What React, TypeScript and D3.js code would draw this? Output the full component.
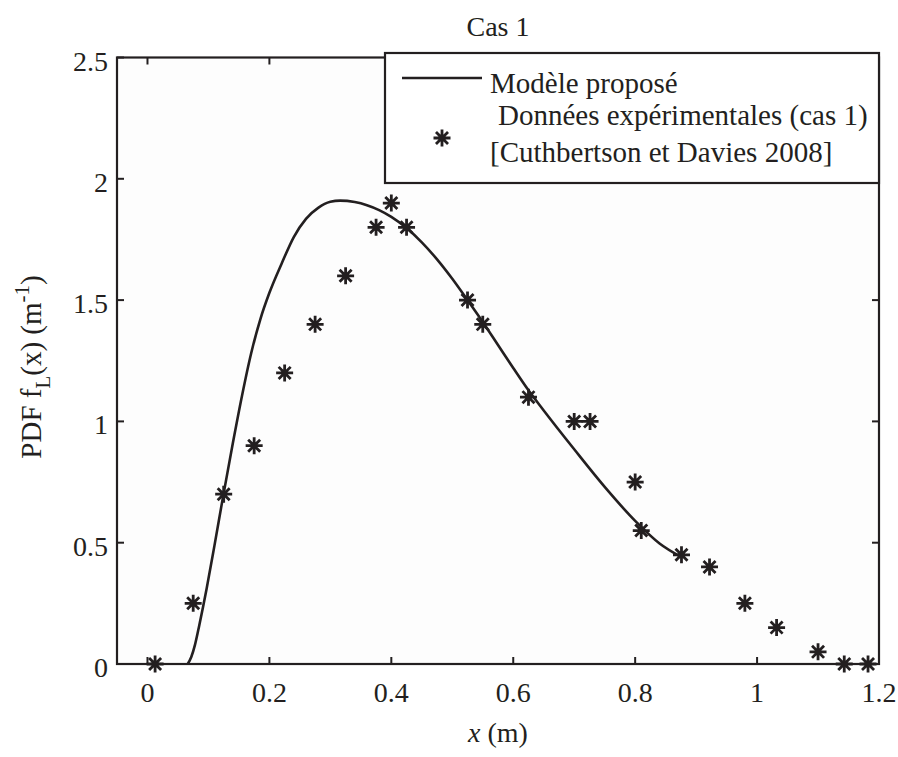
import React from "react";
import * as d3 from "d3";

const W = 898;
const H = 757;

// Experimental data (stars)
const dataX = [0.0125, 0.075, 0.125, 0.175, 0.225, 0.275, 0.325, 0.375, 0.4, 0.425, 0.525, 0.55, 0.625, 0.7, 0.726, 0.8, 0.81, 0.876, 0.922, 0.98, 1.032, 1.1, 1.143, 1.182];
const dataY = [0, 0.25, 0.7, 0.9, 1.2, 1.4, 1.6, 1.8, 1.9, 1.8, 1.5, 1.4, 1.1, 1.0, 1.0, 0.75, 0.55, 0.45, 0.4, 0.25, 0.15, 0.05, 0, 0];

// Model curve
const curveX = [0.066, 0.072, 0.078, 0.085, 0.097, 0.11, 0.124, 0.14, 0.155, 0.17, 0.185, 0.2, 0.22, 0.24, 0.26, 0.28, 0.3, 0.316, 0.34, 0.36, 0.38, 0.4, 0.425, 0.45, 0.475, 0.5, 0.525, 0.55, 0.575, 0.6, 0.625, 0.65, 0.7, 0.75, 0.8, 0.84, 0.875];
const curveY = [0, 0.03, 0.08, 0.16, 0.31, 0.49, 0.69, 0.91, 1.105, 1.28, 1.42, 1.53, 1.65, 1.76, 1.835, 1.88, 1.905, 1.91, 1.904, 1.891, 1.871, 1.843, 1.797, 1.738, 1.668, 1.588, 1.5, 1.41, 1.315, 1.22, 1.128, 1.045, 0.885, 0.73, 0.59, 0.497, 0.442];

const xTicks = [0, 0.2, 0.4, 0.6, 0.8, 1, 1.2];
const yTicks = [0, 0.5, 1, 1.5, 2, 2.5];

const INK = "#231f20";
const FONT = "Liberation Serif, Times New Roman, serif";

export default function App() {
  const left = 117, right = 879, top = 57.5, bottom = 664;
  const x = d3.scaleLinear().domain([-0.05, 1.2]).range([left, right]);
  const y = d3.scaleLinear().domain([0, 2.5]).range([bottom, top]);

  const line = d3
    .line<number>()
    .x((_, i) => x(curveX[i]))
    .y((_, i) => y(curveY[i]))
    .curve(d3.curveMonotoneX);
  const curvePath = line(curveX) || "";

  const star = (cx: number, cy: number, r = 8.5) => {
    const d = r * Math.SQRT1_2;
    return `M${cx - r},${cy}L${cx + r},${cy}M${cx},${cy - r}L${cx},${cy + r}M${cx - d},${cy - d}L${cx + d},${cy + d}M${cx - d},${cy + d}L${cx + d},${cy - d}`;
  };

  const tl = 7;
  const fmt = (v: number) => String(v);

  return (
    <svg width={W} height={H} style={{ position: "absolute", left: 0, top: 0, background: "#fff" }} fontFamily={FONT}>
      <rect x={0} y={0} width={W} height={H} fill="#fff" />
      <rect x={left} y={top} width={right - left} height={bottom - top} fill="#fdfdfd" />
      {/* ticks */}
      <g stroke={INK} strokeWidth={2}>
        {xTicks.map((t) => (
          <g key={"xt" + t}>
            <line x1={x(t)} x2={x(t)} y1={bottom} y2={bottom - tl} />
            <line x1={x(t)} x2={x(t)} y1={top} y2={top + tl} />
          </g>
        ))}
        {yTicks.map((t) => (
          <g key={"yt" + t}>
            <line x1={left} x2={left + tl} y1={y(t)} y2={y(t)} />
            <line x1={right} x2={right - tl} y1={y(t)} y2={y(t)} />
          </g>
        ))}
      </g>
      {/* curve */}
      <path d={curvePath} fill="none" stroke={INK} strokeWidth={2.6} />
      {/* stars */}
      <g stroke={INK} strokeWidth={2.8} strokeLinecap="butt">
        {dataX.map((v, i) => (
          <path key={"s" + i} d={star(x(v), y(dataY[i]))} />
        ))}
      </g>
      {/* frame */}
      <rect x={left} y={top} width={right - left} height={bottom - top} fill="none" stroke={INK} strokeWidth={2.2} />
      {/* tick labels */}
      <g fill={INK} fontSize={28}>
        {xTicks.map((t) => (
          <text key={"xl" + t} x={x(t)} y={702} textAnchor="middle">
            {fmt(t)}
          </text>
        ))}
        {yTicks.map((t) => (
          <text key={"yl" + t} x={108} y={y(t) + 13} textAnchor="end">
            {fmt(t)}
          </text>
        ))}
      </g>
      {/* title */}
      <text x={(left + right) / 2} y={36} textAnchor="middle" fontSize={28} fill={INK}>
        Cas 1
      </text>
      {/* x label */}
      <text x={(left + right) / 2} y={742} textAnchor="middle" fontSize={28} fill={INK}>
        <tspan fontStyle="italic">x</tspan> (m)
      </text>
      {/* y label */}
      <g transform={`translate(41, 367) rotate(-90)`}>
        <text textAnchor="middle" fontSize={29} fill={INK}>
          PDF f<tspan fontSize={21} dy={9}>L</tspan>
          <tspan dy={-9}>(x) (m</tspan>
          <tspan fontSize={21} dy={-12}>-1</tspan>
          <tspan dy={12}>)</tspan>
        </text>
      </g>
      {/* legend */}
      <g>
        <rect x={385} y={53} width={494} height={130} fill="#fff" stroke={INK} strokeWidth={2.2} />
        <line x1={402} x2={482} y1={78} y2={78} stroke={INK} strokeWidth={2.6} />
        <text x={490} y={93} fontSize={29} fill={INK}>Modèle proposé</text>
        <path d={star(442, 138)} stroke={INK} strokeWidth={2.8} />
        <text x={498} y={125} fontSize={29} fill={INK}>Données expérimentales (cas 1)</text>
        <text x={490} y={162} fontSize={29} fill={INK}>[Cuthbertson et Davies 2008]</text>
      </g>
    </svg>
  );
}
